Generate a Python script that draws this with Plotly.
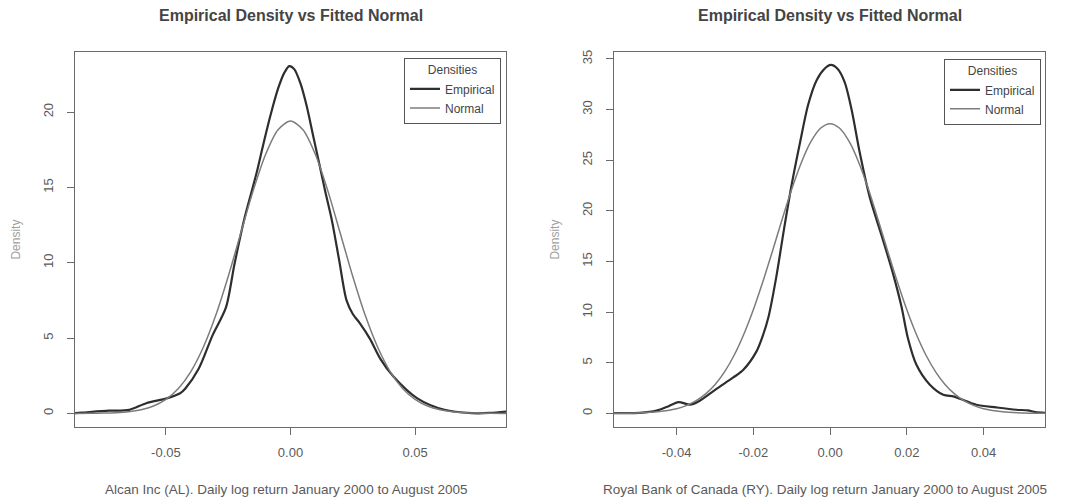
import plotly.graph_objects as go

# ---------------- data ----------------
# Left panel: Alcan Inc (AL)
al_emp_x = [-0.0865, -0.0838, -0.0729, -0.0647, -0.0579, -0.0497, -0.0443, -0.0422,
            -0.0368, -0.0313, -0.0259, -0.0225, -0.0184, -0.0137, -0.0110, -0.0080,
            -0.0050, -0.0025, -0.0005, 0.0015, 0.0040, 0.0065, 0.0090, 0.0115,
            0.0140, 0.0165, 0.0195, 0.0225, 0.0250, 0.0278, 0.0319, 0.0360,
            0.0414, 0.0509, 0.0618, 0.0727, 0.0800, 0.0865]
al_emp_y = [0.02, 0.05, 0.18, 0.24, 0.68, 1.00, 1.34, 1.66,
            2.98, 5.18, 7.04, 9.90, 13.00, 15.90, 17.80, 19.80,
            21.55, 22.60, 23.05, 22.85, 21.90, 20.40, 18.50, 16.60,
            14.70, 12.90, 10.20, 7.50, 6.60, 6.00, 4.95, 3.64,
            2.43, 1.00, 0.24, 0.02, 0.03, 0.12]
al_norm_x = [-0.0865, -0.080, -0.075, -0.070, -0.065, -0.060, -0.055, -0.050, -0.045,
             -0.040, -0.035, -0.030, -0.025, -0.020, -0.015, -0.010, -0.005, 0.0,
             0.005, 0.010, 0.015, 0.020, 0.025, 0.030, 0.035, 0.040, 0.045, 0.050,
             0.055, 0.060, 0.065, 0.070, 0.075, 0.080, 0.0865]
al_norm_y = [0.002, 0.008, 0.021, 0.051, 0.115, 0.246, 0.494, 0.935, 1.66,
             2.78, 4.39, 6.51, 9.09, 11.94, 14.77, 17.18, 18.82, 19.40,
             18.82, 17.18, 14.77, 11.94, 9.09, 6.51, 4.39, 2.78, 1.66, 0.935,
             0.494, 0.246, 0.115, 0.051, 0.021, 0.008, 0.002]

# Right panel: Royal Bank of Canada (RY)
ry_emp_x = [-0.0563, -0.0496, -0.0452, -0.0422, -0.0395, -0.0365, -0.0343, -0.0296,
            -0.0252, -0.0226, -0.0192, -0.0175, -0.0160, -0.0140, -0.0120, -0.0100,
            -0.0078, -0.0057, -0.0035, -0.0015, 0.0002, 0.0020, 0.0038, 0.0056,
            0.0077, 0.0103, 0.0138, 0.0164, 0.0186, 0.0203, 0.0225, 0.0260,
            0.0295, 0.0321, 0.0338, 0.0381, 0.0433, 0.0485, 0.0515, 0.0535, 0.0560]
ry_emp_y = [0.03, 0.05, 0.27, 0.69, 1.12, 0.86, 1.18, 2.43,
            3.55, 4.31, 6.10, 7.70, 9.60, 13.50, 18.20, 22.60,
            26.80, 30.50, 32.90, 34.00, 34.40, 34.00, 32.70, 30.00,
            25.80, 21.40, 17.10, 13.80, 10.55, 7.40, 4.80, 2.83,
            1.84, 1.68, 1.45, 0.86, 0.59, 0.36, 0.30, 0.12, 0.05]
ry_norm_x = [-0.0563, -0.050, -0.045, -0.040, -0.0375, -0.035, -0.0325, -0.030, -0.0275,
             -0.025, -0.0225, -0.020, -0.0175, -0.015, -0.0125, -0.010, -0.0075, -0.005,
             -0.0025, 0.0, 0.0025, 0.005, 0.0075, 0.010, 0.0125, 0.015, 0.0175, 0.020,
             0.0225, 0.025, 0.0275, 0.030, 0.0325, 0.035, 0.0375, 0.040, 0.045, 0.050, 0.0560]
ry_norm_y = [0.009, 0.046, 0.157, 0.469, 0.77, 1.23, 1.90, 2.83, 4.10,
             5.74, 7.79, 10.23, 13.02, 16.04, 19.14, 22.12, 24.75, 26.82,
             28.15, 28.60, 28.15, 26.82, 24.75, 22.12, 19.14, 16.04, 13.02, 10.23,
             7.79, 5.74, 4.10, 2.83, 1.90, 1.23, 0.77, 0.469, 0.157, 0.046, 0.009]

series_names = ["Empirical", "Normal"]
legend_title = "Densities"
panel_title = "Empirical Density vs Fitted Normal"
captions = ["Alcan Inc (AL). Daily log return January 2000 to August 2005",
            "Royal Bank of Canada (RY). Daily log return January 2000 to August 2005"]
y_label = "Density"

al_xticks = [-0.05, 0.0, 0.05]
al_xticktext = ["-0.05", "0.00", "0.05"]
al_yticks = [0, 5, 10, 15, 20]
ry_xticks = [-0.04, -0.02, 0.0, 0.02, 0.04]
ry_xticktext = ["-0.04", "-0.02", "0.00", "0.02", "0.04"]
ry_yticks = [0, 5, 10, 15, 20, 25, 30, 35]

# ---------------- figure ----------------
W, H = 1069, 498
FONT = "Liberation Sans, Arial, Helvetica, sans-serif"
EMP_COLOR = "#2e2e2e"
NORM_COLOR = "#7c7c7c"
AX_COLOR = "#6a6a6a"
TXT_COLOR = "#5a5a5a"

fig = go.Figure()

fig.add_trace(go.Scatter(x=al_emp_x, y=al_emp_y, mode="lines", name=series_names[0],
                         line=dict(color=EMP_COLOR, width=2.2, shape="spline", smoothing=0.8),
                         xaxis="x", yaxis="y", legend="legend"))
fig.add_trace(go.Scatter(x=al_norm_x, y=al_norm_y, mode="lines", name=series_names[1],
                         line=dict(color=NORM_COLOR, width=1.5, shape="spline", smoothing=0.8),
                         xaxis="x", yaxis="y", legend="legend"))
fig.add_trace(go.Scatter(x=ry_emp_x, y=ry_emp_y, mode="lines", name=series_names[0],
                         line=dict(color=EMP_COLOR, width=2.2, shape="spline", smoothing=0.8),
                         xaxis="x2", yaxis="y2", legend="legend2"))
fig.add_trace(go.Scatter(x=ry_norm_x, y=ry_norm_y, mode="lines", name=series_names[1],
                         line=dict(color=NORM_COLOR, width=1.5, shape="spline", smoothing=0.8),
                         xaxis="x2", yaxis="y2", legend="legend2"))

xd1 = [75 / W, 506 / W]
xd2 = [614 / W, 1045 / W]
yd = [71 / H, 448 / H]

axis_common = dict(showgrid=False, zeroline=False, showline=True, mirror=True,
                   linecolor=AX_COLOR, linewidth=1, ticks="outside", ticklen=7,
                   tickwidth=1, tickcolor=AX_COLOR,
                   tickfont=dict(family=FONT, size=13, color=TXT_COLOR))
ytitle = dict(text=y_label, font=dict(family=FONT, size=12, color="#a0a0a0"), standoff=17)

leg_common = dict(xanchor="right", yanchor="top",
                  bgcolor="white", bordercolor="#555555", borderwidth=1,
                  font=dict(family=FONT, size=12, color="#444444"),
                  title=dict(text=legend_title, side="top center",
                             font=dict(family=FONT, size=12, color="#444444")),
                  tracegroupgap=0, itemwidth=30)

fig.update_layout(
    width=W, height=H,
    margin=dict(l=0, r=0, t=0, b=0),
    paper_bgcolor="white", plot_bgcolor="white",
    font=dict(family=FONT, color=TXT_COLOR),
    xaxis=dict(domain=xd1, anchor="y", range=[-0.0865, 0.0865],
               tickvals=al_xticks, ticktext=al_xticktext, ticklabelstandoff=6,
               **axis_common),
    yaxis=dict(domain=yd, anchor="x", range=[-0.92, 24.0],
               tickvals=al_yticks, tickangle=-90, ticklabelstandoff=9,
               title=ytitle, **axis_common),
    xaxis2=dict(domain=xd2, anchor="y2", range=[-0.0563, 0.0560],
                tickvals=ry_xticks, ticktext=ry_xticktext, ticklabelstandoff=6,
                **axis_common),
    yaxis2=dict(domain=yd, anchor="x2", range=[-1.37, 35.7],
                tickvals=ry_yticks, tickangle=-90, ticklabelstandoff=9,
                title=ytitle, **axis_common),
    legend=dict(x=501 / W, y=(H - 56) / H, **leg_common),
    legend2=dict(x=1041 / W, y=(H - 57) / H, **leg_common),
    showlegend=True,
)

# panel titles and captions
for cx, cap in zip([(75 + 506) / 2 / W, (614 + 1045) / 2 / W], captions):
    fig.add_annotation(x=cx, y=(H - 14) / H, xref="paper", yref="paper",
                       text="<b>" + panel_title + "</b>", showarrow=False,
                       xanchor="center", yanchor="middle",
                       font=dict(family=FONT, size=16, color="#444444"))
    fig.add_annotation(x=cx - 5 / W, y=(H - 489) / H, xref="paper", yref="paper",
                       text=cap, showarrow=False, xanchor="center", yanchor="middle",
                       font=dict(family=FONT, size=13.5, color=TXT_COLOR))

fig.write_html("out.html")
